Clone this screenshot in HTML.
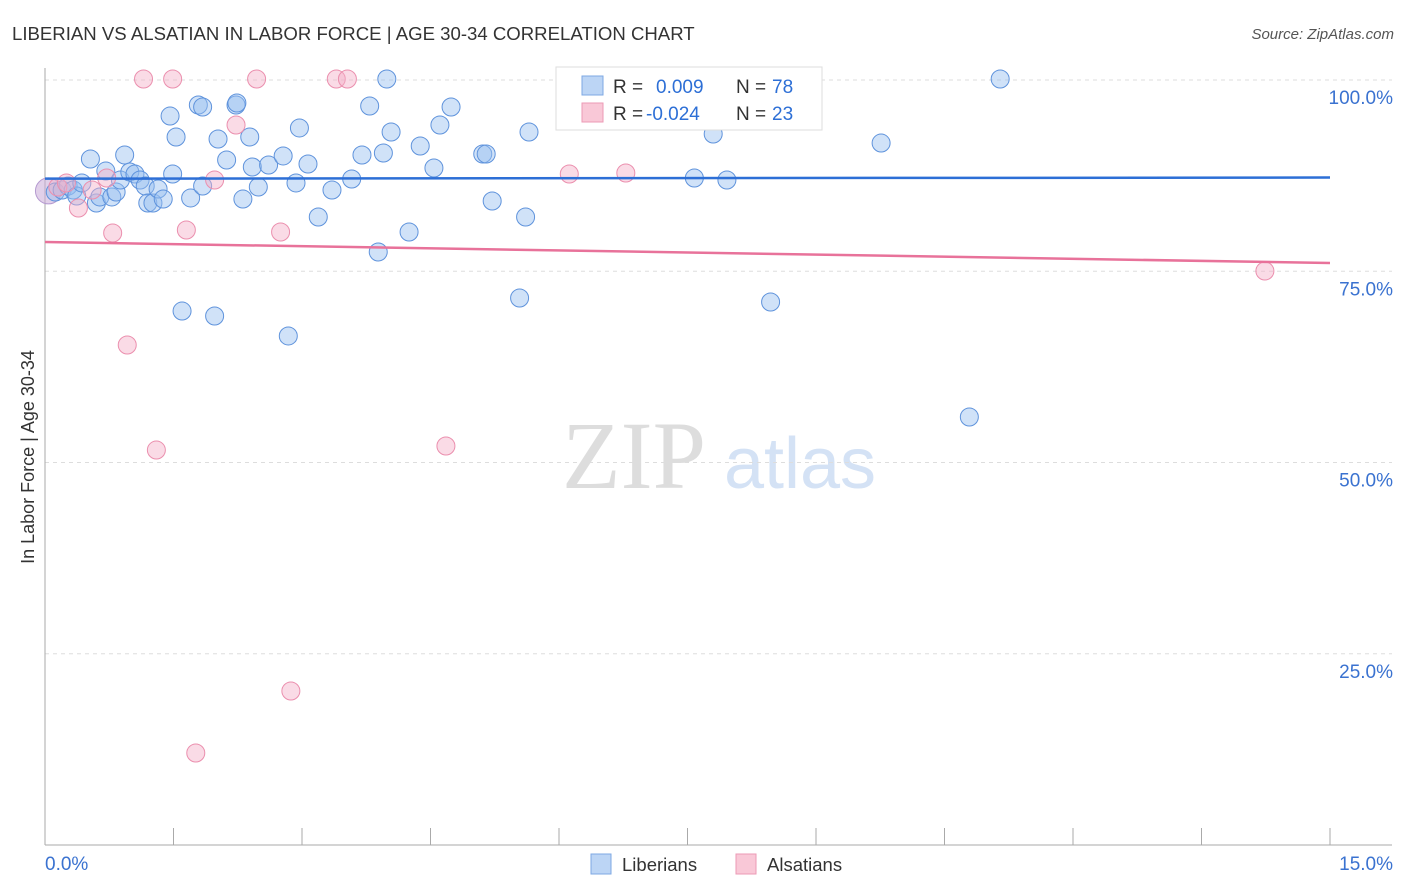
<!DOCTYPE html>
<html><head><meta charset="utf-8"><style>
body{margin:0;background:#fff;font-family:"Liberation Sans",sans-serif}
svg{display:block}
</style></head><body>
<svg id="chart" width="1406" height="892">
<text x="12" y="40" font-size="18.6" fill="#333">LIBERIAN VS ALSATIAN IN LABOR FORCE | AGE 30-34 CORRELATION CHART</text>
<text x="1394" y="39" font-size="15" fill="#555" font-style="italic" text-anchor="end">Source: ZipAtlas.com</text>
<text x="634" y="488" font-size="96" fill="#ddd" font-family="Liberation Serif,serif" text-anchor="middle">ZIP</text>
<text x="800" y="488" font-size="72" fill="#d4e2f5" text-anchor="middle">atlas</text>
<text transform="translate(34,457) rotate(-90)" font-size="18" fill="#333" text-anchor="middle">In Labor Force | Age 30-34</text>
<g id="grid"></g><g id="axes"></g><g id="pts"></g><g id="trends"></g>
<g>
<rect x="556" y="67" width="266" height="63" fill="#fff" stroke="#ddd"/>
<rect x="582" y="76" width="21" height="19" fill="#bcd5f5" stroke="#7ea8e3"/>
<rect x="582" y="103" width="21" height="19" fill="#f9c8d7" stroke="#ec9ab5"/>
<text y="93" font-size="19" fill="#333"><tspan x="613">R =</tspan><tspan x="656" fill="#2d6fd6">0.009</tspan><tspan x="736">N =</tspan><tspan x="772" fill="#2d6fd6">78</tspan></text>
<text y="120" font-size="19" fill="#333"><tspan x="613">R =</tspan><tspan x="646" fill="#2d6fd6">-0.024</tspan><tspan x="736">N =</tspan><tspan x="772" fill="#2d6fd6">23</tspan></text>
</g>
<g>
<rect x="591" y="854" width="20" height="20" fill="#bcd5f5" stroke="#7ea8e3"/>
<text x="622" y="871" font-size="18.5" fill="#333">Liberians</text>
<rect x="736" y="854" width="20" height="20" fill="#f9c8d7" stroke="#ec9ab5"/>
<text x="767" y="871" font-size="18.5" fill="#333">Alsatians</text>
</g>
</svg>
<script>
const blueX=[0.12,0.20,0.27,0.33,0.37,0.43,0.53,0.60,0.64,0.71,0.78,0.83,0.88,0.93,0.99,1.05,1.11,1.17,1.20,1.26,1.32,1.38,1.46,1.49,1.53,1.60,1.70,1.79,1.84,1.84,1.98,2.02,2.12,2.23,2.24,2.31,2.39,2.42,2.49,2.61,2.78,2.84,2.93,2.97,3.07,3.19,3.35,3.58,3.70,3.79,3.89,3.95,3.99,4.04,4.25,4.38,4.54,4.61,4.74,5.11,5.15,5.22,5.54,5.61,5.65,6.25,6.37,7.41,7.58,7.80,7.96,8.47,9.76,10.79,11.15];
const blueY=[85.36,85.62,86.14,85.62,84.84,86.54,89.67,83.92,84.71,88.10,84.71,85.36,86.93,90.20,87.97,87.71,86.93,86.14,83.92,83.92,85.75,84.44,95.29,87.71,92.55,69.80,84.58,96.73,96.47,86.14,69.15,92.29,89.54,96.73,96.99,84.44,92.55,88.63,86.01,88.89,90.07,66.54,86.54,93.73,89.02,82.09,85.62,87.06,90.20,96.60,77.52,90.46,100.13,93.20,80.13,91.37,88.50,94.12,96.47,90.33,90.33,84.18,71.50,82.09,93.20,95.82,95.82,100.0,87.19,92.94,86.93,70.98,91.76,55.95,100.13];
const pinkX=[0.15,0.25,0.39,0.55,0.72,0.79,0.96,1.15,1.30,1.49,1.65,1.76,1.98,2.23,2.47,2.75,2.87,3.40,3.53,4.68,6.12,6.78,14.24];
const pinkY=[86.01,86.54,83.27,85.62,87.19,80.0,65.36,100.13,51.63,100.13,80.39,12.03,86.93,94.12,100.13,80.13,20.13,100.13,100.13,52.16,87.71,87.84,75.03];
const blueTrend=[87.1,87.25];
const pinkTrend=[78.82,76.08];
const yTicks=[100,75,50,25];
const yTickLabels=["100.0%","75.0%","50.0%","25.0%"];
const xTicks=[0,1.5,3,4.5,6,7.5,9,10.5,12,13.5,15];
const NS="http://www.w3.org/2000/svg";
const X=v=>45+v/15*1285, Y=v=>845-v*7.65;
function mk(t,a,p){const e=document.createElementNS(NS,t);for(const k in a)e.setAttribute(k,a[k]);document.getElementById(p).appendChild(e);return e;}
yTicks.forEach((t,i)=>{
 const l=mk('line',{x1:45,x2:1392,y1:Y(t),y2:Y(t),stroke:'#ddd','stroke-dasharray':'4,4'},'grid');
 
 
 const tx=mk('text',{x:1393,y:Y(t)+24,'font-size':19,fill:'#3a72d0','text-anchor':'end'},'grid');
 tx.textContent=yTickLabels[i];
 
 
});
let ax=mk('line',{x1:45,x2:45,y1:68,y2:845,stroke:'#aaa'},'axes');


ax=mk('line',{x1:45,x2:1392,y1:845,y2:845,stroke:'#aaa'},'axes');


xTicks.forEach(t=>{
 const l=mk('line',{x1:X(t),x2:X(t),y1:828,y2:845,stroke:'#aaa'},'axes');
 
 
});
let lab=mk('text',{x:45,y:870,'font-size':19,fill:'#3a72d0'},'axes');lab.textContent='0.0%';


lab=mk('text',{x:1393,y:870,'font-size':19,fill:'#3a72d0','text-anchor':'end'},'axes');lab.textContent='15.0%';


let big=mk('circle',{cx:X(0.04),cy:Y(85.5),r:13,fill:'rgba(200,170,215,0.55)',stroke:'#b59ad0'},'pts');


blueX.forEach((x,i)=>{
 const c=mk('circle',{cx:X(x),cy:Y(blueY[i]),r:9,fill:'rgba(150,190,240,0.45)',stroke:'#5f93dc','stroke-width':1},'pts');
 
 
});
pinkX.forEach((x,i)=>{
 const c=mk('circle',{cx:X(x),cy:Y(pinkY[i]),r:9,fill:'rgba(245,175,200,0.45)',stroke:'#eb8fae','stroke-width':1},'pts');
 
 
});
let tl=mk('line',{x1:X(0),x2:X(15),y1:Y(blueTrend[0]),y2:Y(blueTrend[1]),stroke:'#2d6fd6','stroke-width':2.5},'trends');


tl=mk('line',{x1:X(0),x2:X(15),y1:Y(pinkTrend[0]),y2:Y(pinkTrend[1]),stroke:'#e8729a','stroke-width':2.5},'trends');


</script>
</body></html>
